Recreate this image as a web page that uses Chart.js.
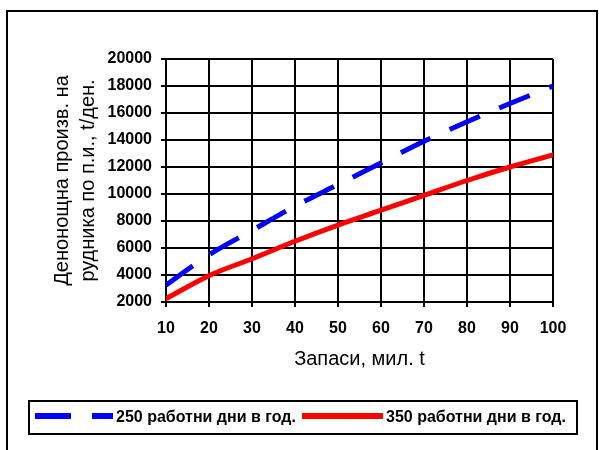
<!DOCTYPE html>
<html>
<head>
<meta charset="utf-8">
<script src="https://cdn.jsdelivr.net/npm/chart.js@4"></script>
<style>
  body { margin: 0; background: #fff; }
</style>
</head>
<body>
<canvas id="mineChart" width="599" height="450"></canvas>
<script>
// запаси, мил. t
const reserves = [10, 20, 30, 40, 50, 60, 70, 80, 90, 100];
// денонощна производителност, t/ден.
const days250 = [3250, 5500, 7300, 9100, 10700, 12300, 13900, 15350, 16700, 18000];
const days350 = [2250, 3950, 5200, 6500, 7700, 8800, 9900, 11000, 12000, 12900];
const seriesNames = ["250 работни дни в год.", "350 работни дни в год."];
const xTitle = "Запаси, мил. t";
const yTitle = ["Денонощна произв. на", "рудника по п.и., t/ден."];

const FONT = '"Liberation Sans", Arial, sans-serif';

const toPoints = (vals) => vals.map((v, i) => ({ x: reserves[i], y: v }));

// рамка на диаграмата + легенда в кутия
const frameLegend = {
  id: "frameLegend",
  afterDraw(chart) {
    const ctx = chart.ctx;
    ctx.save();
    ctx.strokeStyle = "#000";
    ctx.lineWidth = 2;
    ctx.setLineDash([]);
    ctx.strokeRect(7, 11, 590, 470);
    ctx.strokeRect(29, 401, 548, 33);

    const items = [
      { x1: 35, x2: 113, tx: 116 },
      { x1: 302, x2: 383, tx: 386 },
    ];
    const y = 416;
    chart.data.datasets.forEach((ds, i) => {
      const it = items[i];
      ctx.beginPath();
      ctx.strokeStyle = ds.borderColor;
      ctx.lineWidth = 6;
      ctx.lineCap = "butt";
      ctx.setLineDash(ds.borderDash && ds.borderDash.length ? [36, 21] : []);
      ctx.moveTo(it.x1, y);
      ctx.lineTo(it.x2, y);
      ctx.stroke();
      ctx.setLineDash([]);
      ctx.fillStyle = "#000";
      ctx.font = "bold 16px " + FONT;
      ctx.textAlign = "left";
      ctx.textBaseline = "middle";
      ctx.fillText(ds.label, it.tx, y + 2);
    });
    ctx.restore();
  },
};

const ctx = document.getElementById("mineChart").getContext("2d");

const chart = new Chart(ctx, {
  type: "line",
  data: {
    datasets: [
      {
        label: seriesNames[0],
        data: toPoints(days250),
        borderColor: "#0000FF",
        borderWidth: 5,
        borderDash: [33, 21],
        borderCapStyle: "butt",
        pointRadius: 0,
        cubicInterpolationMode: "monotone",
        fill: false,
      },
      {
        label: seriesNames[1],
        data: toPoints(days350),
        borderColor: "#FF0000",
        borderWidth: 5,
        borderCapStyle: "round",
        pointRadius: 0,
        cubicInterpolationMode: "monotone",
        fill: false,
      },
    ],
  },
  options: {
    responsive: false,
    animation: false,
    layout: { padding: { top: 59, right: 46, left: 0, bottom: 0 } },
    plugins: {
      legend: { display: false },
      tooltip: { enabled: false },
    },
    scales: {
      x: {
        type: "linear",
        min: 10,
        max: 100,
        afterFit: (s) => { s.height = 148; },
        ticks: {
          stepSize: 10,
          autoSkip: false,
          maxRotation: 0,
          padding: 12,
          color: "#000",
          font: { family: FONT, size: 16, weight: "bold" },
          callback: (v) => String(v),
        },
        grid: { color: "#000", lineWidth: 2, tickLength: 5 },
        border: { color: "#000", width: 2 },
        title: {
          display: true,
          text: xTitle,
          color: "#000",
          font: { family: FONT, size: 20 },
          padding: { top: 0, bottom: 79 },
        },
      },
      y: {
        min: 2000,
        max: 20000,
        afterFit: (s) => { s.width = 166; },
        ticks: {
          stepSize: 2000,
          padding: 9,
          color: "#000",
          font: { family: FONT, size: 16, weight: "bold" },
          callback: (v) => String(v),
        },
        grid: { color: "#000", lineWidth: 2, tickLength: 5 },
        border: { color: "#000", width: 2 },
        title: {
          display: true,
          text: yTitle,
          color: "#000",
          font: { family: FONT, size: 20, lineHeight: 1.3 },
          padding: { top: 49, bottom: 0 },
        },
      },
    },
  },
  plugins: [frameLegend],
});
</script>
</body>
</html>
